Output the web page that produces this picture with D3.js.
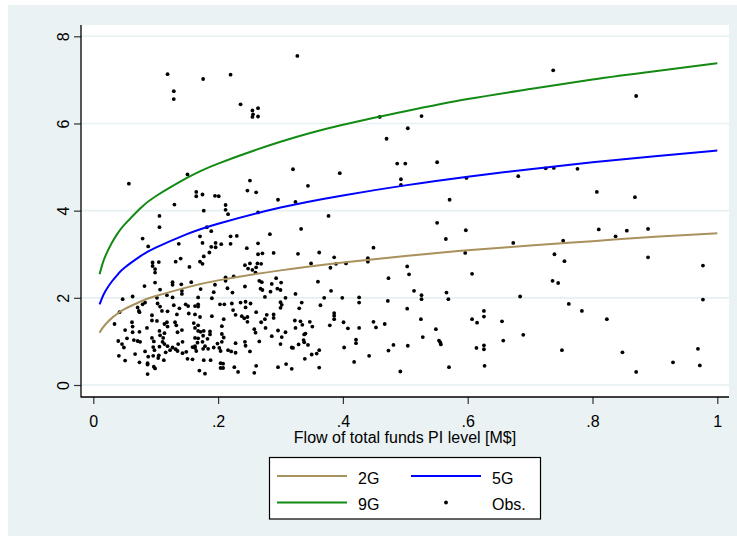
<!DOCTYPE html>
<html>
<head>
<meta charset="utf-8">
<script src="https://cdn.jsdelivr.net/npm/d3@7"></script>
<style>
  body { margin: 0; background: #ffffff; }
  svg { display: block; font-family: "Liberation Sans", Arial, sans-serif; }
</style>
</head>
<body>
<div id="chart"></div>
<script>
// chart values

var curveX = [0.01, 0.015, 0.02, 0.03, 0.04, 0.05, 0.075, 0.1, 0.15, 0.2, 0.3, 0.4, 0.5, 0.6, 0.7, 0.8, 0.9, 1.0];
var fit2G = [1.20, 1.31, 1.40, 1.54, 1.65, 1.74, 1.91, 2.04, 2.24, 2.40, 2.63, 2.81, 2.96, 3.09, 3.20, 3.30, 3.40, 3.48];
var fit5G = [1.85, 2.03, 2.17, 2.38, 2.55, 2.69, 2.95, 3.15, 3.46, 3.70, 4.07, 4.35, 4.58, 4.78, 4.95, 5.11, 5.25, 5.38];
var fit9G = [2.54, 2.79, 2.98, 3.27, 3.50, 3.68, 4.05, 4.33, 4.75, 5.08, 5.58, 5.97, 6.28, 6.56, 6.79, 7.01, 7.20, 7.38];

var xTicks = [0, 0.2, 0.4, 0.6, 0.8, 1];
var xTickLabels = ["0", ".2", ".4", ".6", ".8", "1"];
var yTicks = [0, 2, 4, 6, 8];
var yTickLabels = ["0", "2", "4", "6", "8"];

var xTitle = "Flow of total funds PI level [M$]";
var legendLabels = ["2G", "5G", "9G", "Obs."];

// observations [flow, value]
var obs = [
 [0.119,7.13],[0.129,6.74],[0.129,6.56],[0.176,7.02],[0.220,7.12],[0.236,6.44],[0.255,6.30],[0.264,6.35],
 [0.256,6.21],[0.255,6.15],[0.264,6.16],[0.327,7.55],[0.057,4.62],[0.151,4.83],[0.165,4.43],[0.165,4.33],
 [0.175,4.37],[0.195,4.34],[0.201,4.33],[0.212,4.13],[0.212,4.02],[0.216,3.92],[0.130,4.14],[0.177,4.00],
 [0.106,3.88],[0.106,3.62],[0.079,3.36],[0.088,3.18],[0.137,3.24],[0.182,3.62],[0.189,3.53],[0.171,3.41],
 [0.175,3.26],[0.189,3.17],[0.196,3.26],[0.196,3.16],[0.205,3.23],[0.220,3.41],[0.230,3.42],[0.220,3.24],
 [0.246,3.14],[0.264,3.25],[0.251,4.69],[0.247,4.46],[0.261,4.42],[0.264,3.96],[0.283,3.46],[0.296,4.25],
 [0.320,4.95],[0.324,4.20],[0.344,4.57],[0.333,3.58],[0.377,3.88],[0.395,4.86],[0.449,3.15],[0.459,6.15],
 [0.470,5.65],[0.487,5.08],[0.500,5.08],[0.504,5.89],[0.526,6.17],[0.493,4.72],[0.493,4.59],[0.551,5.11],
 [0.551,3.72],[0.565,3.35],[0.571,4.25],[0.597,3.55],[0.598,4.75],[0.737,7.22],[0.870,6.63],
 [0.681,4.79],[0.725,4.97],[0.738,4.98],[0.776,4.96],[0.807,4.43],[0.868,4.31],[0.810,3.57],[0.837,3.41],
 [0.855,3.54],[0.889,3.58],[0.673,3.26],[0.753,3.31],[0.739,3.00],[0.755,2.84],[0.889,2.93],[0.977,2.74],
 [0.736,2.39],[0.745,2.34],[0.684,2.03],[0.977,1.96],[0.762,1.86],[0.783,1.70],[0.655,1.46],[0.823,1.51],
 [0.657,1.02],[0.689,1.15],[0.751,0.80],[0.848,0.75],[0.969,0.83],[0.972,0.45],[0.929,0.52],[0.870,0.30],
 [0.264,3.00],[0.271,3.02],[0.289,3.03],[0.328,3.01],[0.362,3.04],[0.386,2.93],[0.440,2.91],[0.440,2.83],
 [0.596,3.03],[0.251,2.79],[0.263,2.79],[0.269,2.78],[0.261,2.70],[0.260,2.58],[0.255,2.64],[0.349,2.79],
 [0.380,2.69],[0.389,2.78],[0.405,2.79],[0.503,2.72],[0.506,2.54],[0.473,2.45],[0.607,2.55],[0.293,2.45],
 [0.266,2.39],[0.270,2.36],[0.301,2.35],[0.286,2.32],[0.268,2.21],[0.271,2.18],[0.284,2.14],[0.295,2.21],
 [0.300,2.18],[0.360,2.37],[0.381,2.16],[0.275,2.02],[0.324,2.09],[0.308,2.00],[0.252,1.87],[0.300,1.90],
 [0.302,1.84],[0.300,1.77],[0.334,1.89],[0.330,1.76],[0.370,2.00],[0.364,1.83],[0.399,2.00],[0.426,2.01],
 [0.426,1.89],[0.472,1.93],[0.514,2.16],[0.526,2.06],[0.526,1.97],[0.566,2.12],[0.569,1.97],[0.503,1.75],
 [0.261,1.67],[0.278,1.61],[0.275,1.51],[0.269,1.44],[0.289,1.62],[0.289,1.54],[0.323,1.48],[0.332,1.46],
 [0.335,1.38],[0.347,1.45],[0.351,1.34],[0.386,1.65],[0.386,1.59],[0.386,1.51],[0.379,1.37],[0.401,1.44],
 [0.408,1.30],[0.426,1.31],[0.449,1.45],[0.453,1.32],[0.467,1.40],[0.525,1.51],[0.549,1.28],[0.607,1.51],
 [0.615,1.43],[0.626,1.70],[0.626,1.57],[0.258,1.28],[0.260,1.20],[0.276,1.31],[0.266,1.00],[0.286,1.12],
 [0.302,1.10],[0.296,1.25],[0.308,1.21],[0.324,1.31],[0.338,1.16],[0.340,1.18],[0.337,1.03],[0.338,0.98],
 [0.329,0.93],[0.344,0.92],[0.318,0.86],[0.320,0.85],[0.362,0.80],[0.358,0.72],[0.350,0.70],[0.339,0.60],
 [0.402,0.86],[0.418,0.53],[0.442,0.67],[0.421,1.04],[0.421,0.96],[0.473,0.79],[0.481,0.92],[0.504,0.90],
 [0.528,1.10],[0.554,1.02],[0.556,0.98],[0.557,0.93],[0.614,0.85],[0.626,0.91],[0.626,0.82],[0.570,0.41],
 [0.627,0.44],[0.492,0.31],[0.261,0.44],[0.258,0.28],[0.296,0.41],[0.309,0.48],[0.318,0.37],[0.362,0.40],
 [0.251,0.77],
 [0.095,2.81],[0.095,2.73],[0.099,2.66],[0.099,2.58],[0.105,2.82],[0.132,2.83],[0.140,2.90],[0.154,2.71],
 [0.171,2.83],[0.186,3.04],[0.177,2.95],[0.175,2.78],[0.243,2.75],[0.248,2.67],
 [0.082,2.27],[0.099,2.35],[0.127,2.36],[0.127,2.30],[0.141,2.31],[0.157,2.36],[0.107,2.19],[0.142,2.16],
 [0.142,2.09],[0.118,2.06],[0.127,2.01],[0.063,2.03],[0.047,1.97],[0.102,2.00],[0.083,1.89],[0.079,1.85],
 [0.103,1.87],[0.073,1.70],[0.071,1.78],[0.074,1.67],[0.110,1.70],[0.042,1.67],[0.129,1.83],[0.138,1.76],
 [0.148,1.85],[0.152,1.81],[0.163,1.81],[0.153,1.64],[0.163,1.62],[0.119,1.69],[0.134,1.62],[0.034,1.40],
 [0.062,1.44],[0.063,1.34],[0.094,1.48],[0.086,1.31],[0.118,1.44],[0.114,1.40],[0.119,1.34],[0.131,1.44],
 [0.133,1.37],[0.142,1.26],[0.161,1.42],[0.163,1.31],[0.168,1.37],[0.051,1.26],[0.063,1.21],[0.074,1.22],
 [0.106,1.24],[0.114,1.19],[0.107,1.14],[0.112,1.08],[0.135,1.21],[0.163,1.08],[0.040,1.01],[0.046,0.94],
 [0.065,1.03],[0.071,1.01],[0.054,1.07],[0.094,1.08],[0.097,1.00],[0.111,0.99],[0.114,0.94],[0.119,0.89],
 [0.127,0.86],[0.132,0.82],[0.136,0.94],[0.143,0.99],[0.159,0.87],[0.163,0.89],[0.167,0.97],[0.049,0.86],
 [0.083,0.77],[0.098,0.80],[0.096,0.67],[0.116,0.75],[0.123,0.80],[0.135,0.78],[0.149,0.76],[0.163,0.85],
 [0.041,0.67],[0.067,0.71],[0.088,0.65],[0.105,0.68],[0.104,0.62],[0.113,0.57],[0.143,0.73],[0.151,0.60],
 [0.159,0.59],[0.051,0.56],[0.074,0.52],[0.087,0.50],[0.087,0.47],[0.097,0.42],[0.099,0.38],[0.170,0.33],
 [0.087,0.25],[0.075,0.99],[0.094,1.60],[0.107,1.80],[0.102,1.47],[0.096,0.87],[0.106,0.88],
 [0.212,2.47],[0.212,2.39],[0.225,2.49],[0.195,2.30],[0.193,2.13],[0.172,2.20],[0.215,2.22],[0.223,2.12],
 [0.243,2.26],[0.190,1.99],[0.168,2.01],[0.168,1.85],[0.168,1.80],[0.203,1.85],[0.210,1.85],[0.222,1.87],
 [0.236,1.89],[0.244,1.91],[0.244,1.78],[0.224,1.72],[0.228,1.61],[0.238,1.58],[0.242,1.53],[0.247,1.56],
 [0.247,1.45],[0.171,1.56],[0.190,1.58],[0.209,1.51],[0.206,1.35],[0.168,1.24],[0.172,1.22],[0.177,1.24],
 [0.187,1.23],[0.187,1.16],[0.168,1.07],[0.176,1.13],[0.183,1.06],[0.175,0.99],[0.206,1.17],[0.206,0.99],
 [0.209,1.09],[0.179,0.89],[0.176,0.83],[0.184,0.83],[0.199,0.95],[0.193,0.86],[0.202,0.85],[0.204,0.78],
 [0.216,0.80],[0.221,0.77],[0.228,0.96],[0.228,0.74],[0.243,0.99],[0.244,0.90],[0.300,0.94],[0.165,0.78],
 [0.177,0.57],[0.188,0.57],[0.204,0.50],[0.204,0.39],[0.208,0.49],[0.208,0.39],[0.226,0.41],[0.232,0.30],
 [0.179,0.26]
];

// layout (pixels)
var W = 737, H = 541;
var graphBox = {"left": 8, "top": 5, "right": 737, "bottom": 536};
var plotBox = {"left": 81, "top": 25, "right": 729, "bottom": 397};

var colors = {"2G": "#a8915c", "5G": "#0000ff", "9G": "#138a13", "Obs.": "#000000"};

var svg = d3.select("#chart").append("svg")
	.attr("width", W)
	.attr("height", H);

// graph region + plot region backgrounds
svg.append("rect")
	.attr("x", graphBox.left).attr("y", graphBox.top)
	.attr("width", graphBox.right - graphBox.left)
	.attr("height", graphBox.bottom - graphBox.top)
	.attr("fill", "#eaf2f3");

svg.append("rect")
	.attr("x", plotBox.left).attr("y", plotBox.top)
	.attr("width", plotBox.right - plotBox.left)
	.attr("height", plotBox.bottom - plotBox.top)
	.attr("fill", "#ffffff");

var xScale = d3.scaleLinear().domain([0, 1]).range([93.3, 717.3]);
var yScale = d3.scaleLinear().domain([0, 8]).range([385, 36.3]);

// gridlines
svg.append("g").selectAll("line")
	.data(yTicks)
	.enter()
	.append("line")
	.attr("x1", plotBox.left)
	.attr("x2", plotBox.right)
	.attr("y1", function(d) { return yScale(d); })
	.attr("y2", function(d) { return yScale(d); })
	.attr("stroke", "#e6eff1")
	.attr("stroke-width", 1.6);

// axes
var xAxis = d3.axisBottom(xScale)
	.tickValues(xTicks)
	.tickSize(7)
	.tickPadding(12)
	.tickFormat(function(d, i) { return xTickLabels[i]; });

var gx = svg.append("g")
	.attr("class", "xAxis")
	.attr("transform", "translate(0," + plotBox.bottom + ")")
	.call(xAxis);
gx.select(".domain").remove();
gx.selectAll(".tick line").attr("stroke", "#333").attr("stroke-width", 1.2);
gx.selectAll(".tick text")
	.attr("font-size", 16)
	.attr("font-family", "Liberation Sans, Arial, sans-serif")
	.attr("fill", "#000");

var yAxis = d3.axisLeft(yScale)
	.tickValues(yTicks)
	.tickSize(7)
	.tickFormat(function(d, i) { return yTickLabels[i]; });

var gy = svg.append("g")
	.attr("class", "yAxis")
	.attr("transform", "translate(" + plotBox.left + ",0)")
	.call(yAxis);
gy.select(".domain").remove();
gy.selectAll(".tick line").attr("stroke", "#333").attr("stroke-width", 1.2);
gy.selectAll(".tick text")
	.attr("font-size", 16)
	.attr("font-family", "Liberation Sans, Arial, sans-serif")
	.attr("fill", "#000")
	.attr("x", null).attr("dy", null)
	.attr("text-anchor", "middle")
	.attr("transform", "translate(-12.5,0) rotate(-90)");

svg.append("line")
	.attr("x1", plotBox.left).attr("x2", plotBox.left)
	.attr("y1", plotBox.top).attr("y2", plotBox.bottom + 0.5)
	.attr("stroke", "#000").attr("stroke-width", 1.3);
svg.append("line")
	.attr("x1", plotBox.left).attr("x2", plotBox.right)
	.attr("y1", plotBox.bottom).attr("y2", plotBox.bottom)
	.attr("stroke", "#000").attr("stroke-width", 1.3);

// x title
svg.append("text")
	.attr("x", (plotBox.left + plotBox.right) / 2)
	.attr("y", 443)
	.attr("text-anchor", "middle")
	.attr("font-size", 16)
	.text(xTitle);

// observations
svg.append("g").selectAll("circle")
	.data(obs)
	.enter()
	.append("circle")
	.attr("cx", function(d) { return xScale(d[0]); })
	.attr("cy", function(d) { return yScale(d[1]); })
	.attr("r", 1.9)
	.attr("fill", colors["Obs."]);

// fitted curves
var line = d3.line()
	.x(function(d) { return xScale(d[0]); })
	.y(function(d) { return yScale(d[1]); })
	.curve(d3.curveNatural);

var fits = [["2G", fit2G], ["5G", fit5G], ["9G", fit9G]];
fits.forEach(function(f) {
	var pts = curveX.map(function(x, i) { return [x, f[1][i]]; });
	svg.append("path")
		.datum(pts)
		.attr("d", line)
		.attr("fill", "none")
		.attr("stroke", colors[f[0]])
		.attr("stroke-width", 2);
});

// legend
var lg = svg.append("g").attr("id", "legend");
lg.append("rect")
	.attr("x", 269.5).attr("y", 457.5)
	.attr("width", 271).attr("height", 61.5)
	.attr("fill", "#fff")
	.attr("stroke", "#000")
	.attr("stroke-width", 1.2);

var legendPos = [
	{"lx": 277, "tx": 358, "y": 476},
	{"lx": 411, "tx": 492, "y": 476},
	{"lx": 277, "tx": 358, "y": 502.5},
	{"lx": 411, "tx": 492, "y": 502.5}
];
var legendOrder = ["2G", "5G", "9G", "Obs."];
legendOrder.forEach(function(k, i) {
	var p = legendPos[i];
	if (k === "Obs.") {
		lg.append("circle")
			.attr("cx", p.lx + 35).attr("cy", p.y)
			.attr("r", 1.9).attr("fill", colors[k]);
	} else {
		lg.append("line")
			.attr("x1", p.lx).attr("x2", p.lx + 70)
			.attr("y1", p.y).attr("y2", p.y)
			.attr("stroke", colors[k]).attr("stroke-width", 2);
	}
	lg.append("text")
		.attr("x", p.tx).attr("y", p.y + 7.5)
		.attr("font-size", 16)
		.text(legendLabels[legendOrder.indexOf(k)]);
});
</script>
</body>
</html>
